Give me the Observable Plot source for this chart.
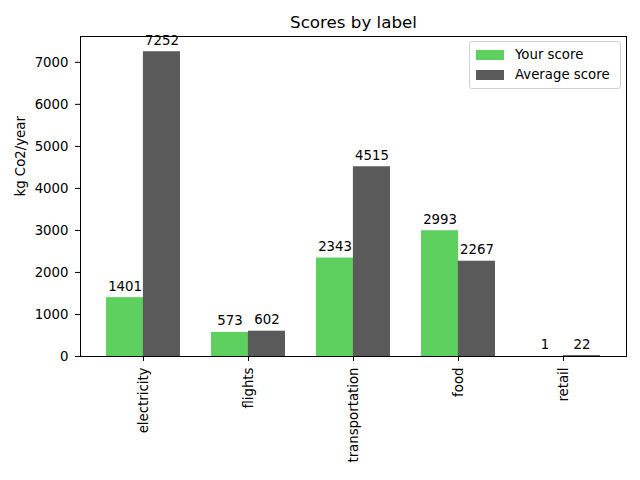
<!DOCTYPE html>
<html><head><meta charset="utf-8">
<script src="https://cdn.jsdelivr.net/npm/d3@7"></script>
<script src="https://cdn.jsdelivr.net/npm/@observablehq/plot@0.6"></script>
<style>
body{margin:0;background:#fff;font-family:"DejaVu Sans",sans-serif;}
#wrap{position:relative;width:640px;height:480px;}
#legend{position:absolute;left:469px;top:41px;width:150px;height:46px;border:1px solid #d0d0d0;border-radius:3px;background:rgba(255,255,255,0.8);font-size:13.3px;color:#000;}
.row{position:absolute;left:6px;display:flex;align-items:center;}
.sw{width:28px;height:10px;margin-right:11px;}
</style></head>
<body><div id="wrap"><div id="legend"></div></div>
<script>
const categories = ["electricity","flights","transportation","food","retail"];
const yourScore = [1401,573,2343,2993,1];
const averageScore = [7252,602,4515,2267,22];
const series = ["Your score","Average score"];
const colors = ["#5dd05f","#5a5a5a"];

const yours = categories.map((c,i)=>({cat:c,v:yourScore[i]}));
const avg = categories.map((c,i)=>({cat:c,v:averageScore[i]}));
const half = 36.9;
const fs = "13.3px";

const chart = Plot.plot({
  width:640, height:480,
  marginLeft:80, marginRight:14, marginTop:36, marginBottom:124,
  style:{fontFamily:"DejaVu Sans, sans-serif", fontSize:fs, color:"#000", background:"#fff"},
  x:{domain:categories, paddingInner:0.3, paddingOuter:0.2375, label:null},
  y:{domain:[0,7614.6], label:null},
  marks:[
    Plot.barY(yours,{x:"cat",y:"v",fill:colors[0],insetRight:half,insetLeft:0}),
    Plot.barY(avg,{x:"cat",y:"v",fill:colors[1],insetLeft:half,insetRight:0}),
    Plot.text(yours,{x:"cat",y:"v",text:d=>String(d.v),dx:-half/2,dy:-7,lineAnchor:"bottom",fill:"#000",fontSize:fs}),
    Plot.text(avg,{x:"cat",y:"v",text:d=>String(d.v),dx:half/2,dy:-7,lineAnchor:"bottom",fill:"#000",fontSize:fs}),
    Plot.axisY({ticks:d3.range(0,7001,1000),tickSize:5,tickPadding:7,tickFormat:d=>String(d),label:null,fontSize:fs}),
    Plot.axisX({tickSize:5,tickPadding:6,tickRotate:-90,label:null,fontSize:fs}),
    Plot.text(["kg Co2/year"],{frameAnchor:"left",dx:-60,rotate:-90,fontSize:fs,fill:"#000"}),
    Plot.text(["Scores by label"],{frameAnchor:"top",dy:-20,fontSize:"16.7px",fill:"#000"}),
    Plot.frame({stroke:"#000",strokeWidth:1})
  ]
});
document.getElementById("wrap").prepend(chart);
const lg=document.getElementById("legend");
series.forEach((s,i)=>{
  const r=document.createElement("div");r.className="row";r.style.top=(5+i*20)+"px";
  r.innerHTML=`<div class="sw" style="background:${colors[i]}"></div><span>${s}</span>`;
  lg.appendChild(r);
});
</script></body></html>
